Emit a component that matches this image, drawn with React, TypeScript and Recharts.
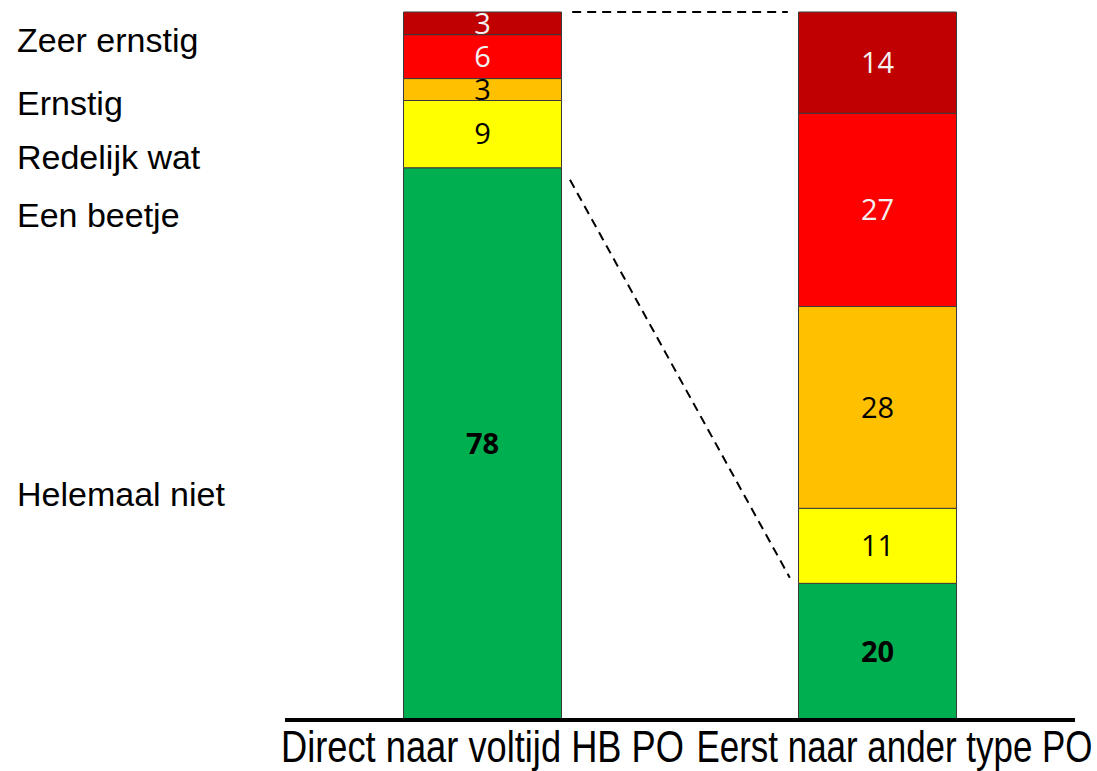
import { ComposedChart, Bar, XAxis, YAxis, LabelList, ReferenceLine } from 'recharts'

const categories = ['Direct naar voltijd HB PO', 'Eerst naar ander type PO']
const categoryPos = [0.5, 1.5]

// measured segment sizes (percent) and the rounded numbers printed in the bars
const helemaalNiet = [78.0, 19.3]
const eenBeetje = [9.5, 10.6]
const redelijkWat = [3.1, 28.5]
const ernstig = [6.2, 27.3]
const zeerErnstig = [3.2, 14.3]

const helemaalNietLabel = [78, 20]
const eenBeetjeLabel = [9, 11]
const redelijkWatLabel = [3, 28]
const ernstigLabel = [6, 27]
const zeerErnstigLabel = [3, 14]

// side labels and where they sit on the value scale
const sideNames = ['Helemaal niet', 'Een beetje', 'Redelijk wat', 'Ernstig', 'Zeer ernstig']
const sidePos = [31.9, 71.3, 79.5, 87.1, 96.1]

// connector lines between the bars, [x, y] on the 0..2 category scale
const topConnector: [number, number][] = [[0.727, 100], [1.273, 100]]
const greenConnector: [number, number][] = [[0.7215, 76.3], [1.278, 20.1]]

const data = categories.map((name, i) => ({
  name,
  pos: categoryPos[i],
  helemaal: helemaalNiet[i],
  beetje: eenBeetje[i],
  redelijk: redelijkWat[i],
  ernstig: ernstig[i],
  zeer: zeerErnstig[i],
  helemaalL: helemaalNietLabel[i],
  beetjeL: eenBeetjeLabel[i],
  redelijkL: redelijkWatLabel[i],
  ernstigL: ernstigLabel[i],
  zeerL: zeerErnstigLabel[i],
}))

const numFont = '"Open Sans", "DejaVu Sans", sans-serif'
const textFont = '"Liberation Sans", Arial, sans-serif'
const tickShift = [0, 17]
const tickWidth = [403, 396]

function SideTick(props: any) {
  const { y, payload } = props
  const idx = sidePos.indexOf(payload.value)
  return (
    <text x={17} y={y} dy={12} fontSize={34} fontFamily={textFont} fill="#000" textAnchor="start">
      {sideNames[idx]}
    </text>
  )
}

function CatTick(props: any) {
  const { x, y, payload } = props
  const idx = categoryPos.indexOf(payload.value)
  if (idx < 0) return null
  return (
    <text
      x={x + tickShift[idx]}
      y={y + 34}
      fontSize={44}
      fontFamily={textFont}
      fill="#000"
      textAnchor="middle"
      textLength={tickWidth[idx]}
      lengthAdjust="spacingAndGlyphs"
    >
      {categories[idx]}
    </text>
  )
}

const segStroke = '#3a3a3a'
const dash = { stroke: '#000', strokeWidth: 2, strokeDasharray: '9 6' }

export default function App() {
  return (
    <div style={{ position: 'absolute', left: 0, top: 0, background: '#fff' }}>
      <ComposedChart
        width={1097}
        height={771}
        data={data}
        barCategoryGap="30%"
        margin={{ top: 12, right: 22, bottom: 0, left: 0 }}
      >
        <XAxis
          dataKey="pos"
          type="number"
          domain={[0, 2]}
          ticks={categoryPos}
          allowDataOverflow
          height={51}
          tickLine={false}
          axisLine={{ stroke: '#000', strokeWidth: 4 }}
          tick={<CatTick />}
          interval={0}
        />
        <YAxis
          width={285}
          domain={[0, 100]}
          ticks={sidePos}
          interval={0}
          axisLine={false}
          tickLine={false}
          tick={<SideTick />}
        />
        <Bar dataKey="helemaal" stackId="a" fill="#00B050" stroke={segStroke} strokeWidth={1} isAnimationActive={false}>
          <LabelList dataKey="helemaalL" position="center" fill="#000" fontSize={29} fontWeight="bold" fontFamily={numFont} />
        </Bar>
        <Bar dataKey="beetje" stackId="a" fill="#FFFF00" stroke={segStroke} strokeWidth={1} isAnimationActive={false}>
          <LabelList dataKey="beetjeL" position="center" fill="#000" fontSize={29} fontFamily={numFont} />
        </Bar>
        <Bar dataKey="redelijk" stackId="a" fill="#FFC000" stroke={segStroke} strokeWidth={1} isAnimationActive={false}>
          <LabelList dataKey="redelijkL" position="center" fill="#000" fontSize={29} fontFamily={numFont} />
        </Bar>
        <Bar dataKey="ernstig" stackId="a" fill="#FF0000" stroke={segStroke} strokeWidth={1} isAnimationActive={false}>
          <LabelList dataKey="ernstigL" position="center" fill="#F2F2F2" fontSize={29} fontFamily={numFont} />
        </Bar>
        <Bar dataKey="zeer" stackId="a" fill="#C00000" stroke={segStroke} strokeWidth={1} isAnimationActive={false}>
          <LabelList dataKey="zeerL" position="center" fill="#F2F2F2" fontSize={29} fontFamily={numFont} />
        </Bar>
        <ReferenceLine segment={topConnector.map(([x, y]) => ({ x, y }))} {...dash} ifOverflow="visible" />
        <ReferenceLine segment={greenConnector.map(([x, y]) => ({ x, y }))} {...dash} ifOverflow="visible" />
      </ComposedChart>
    </div>
  )
}
